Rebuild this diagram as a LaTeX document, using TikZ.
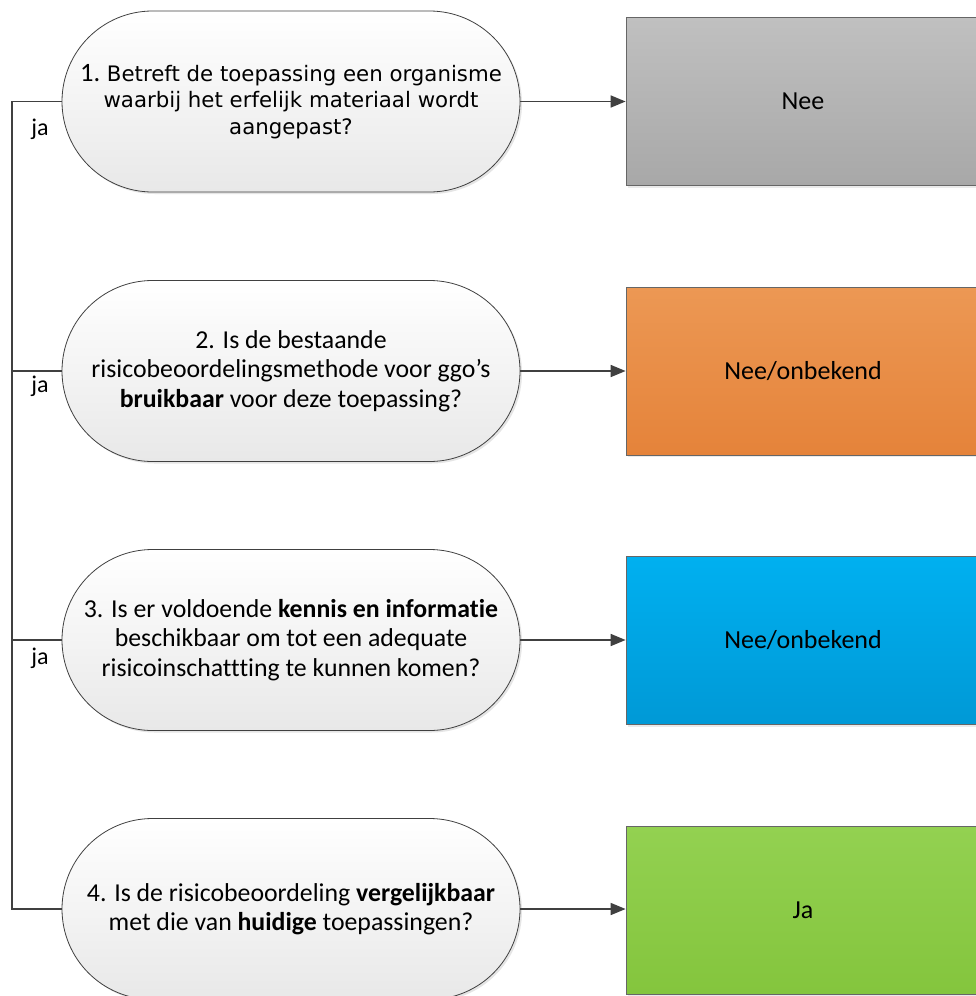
\documentclass[tikz,border=0pt]{standalone}
\usepackage{fontspec}
\setmainfont[Ligatures={NoCommon}]{Carlito}
\newfontfamily\verd{DejaVu Sans}
\usetikzlibrary{arrows.meta,shadows,positioning}
\definecolor{lineclr}{HTML}{404040}
\definecolor{greyT}{HTML}{C0C0C0}\definecolor{greyB}{HTML}{A8A8A8}
\definecolor{orT}{HTML}{EC9854}\definecolor{orB}{HTML}{E5833A}
\definecolor{blT}{HTML}{00B0F0}\definecolor{blB}{HTML}{0099D6}
\definecolor{grT}{HTML}{93D151}\definecolor{grB}{HTML}{84C53D}
\tikzset{
  question/.style={draw=lineclr, line width=0.8pt, rounded corners=90.5pt,
    minimum width=458pt, minimum height=181pt, inner sep=0pt,
    top color=white, bottom color=black!9, align=center,
    font=\fontsize{25.8}{29.5}\selectfont,
    drop shadow={shadow xshift=2pt, shadow yshift=-2pt, opacity=0.25, fill=black!40}},
  answer/.style={draw=black!60, line width=0.8pt, minimum width=354pt,
    minimum height=168pt, inner sep=0pt, font=\fontsize{26}{30}\selectfont,
    drop shadow={shadow xshift=2pt, shadow yshift=-2pt, opacity=0.2, fill=black!40}},
  conn/.style={draw=lineclr, line width=1.7pt},
  arr/.style={conn, -{Triangle[length=15pt,width=12pt]}},
  jalabel/.style={font=\fontsize{24}{26}\selectfont, inner sep=0pt}
}
\begin{document}
\begin{tikzpicture}[x=1pt,y=-1pt]
\useasboundingbox (0,0) rectangle (975,996);
\fill[white] (0,0) rectangle (975,996);
% questions
\node[question, font=\verd\fontsize{21.3}{26.5}\selectfont] (q1) at (291,101.5) {{\rmfamily\fontsize{26.5}{26.5}\selectfont 1.}~Betreft de toepassing een organisme\\waarbij het erfelijk materiaal wordt\\aangepast?};
\node[question] (q2) at (291,371) {2. Is de bestaande\\risicobeoordelingsmethode voor ggo’s\\\textbf{bruikbaar} voor deze toepassing?};
\node[question] (q3) at (291,640) {3. Is er voldoende \textbf{kennis en informatie}\\beschikbaar om tot een adequate\\risicoinschattting te kunnen komen?};
\node[question] (q4) at (291,909) {4. Is de risicobeoordeling \textbf{vergelijkbaar}\\met die van \textbf{huidige} toepassingen?};
% answers
\node[answer, top color=greyT, bottom color=greyB] (a1) at (803,101.5) {Nee};
\node[answer, top color=orT, bottom color=orB] (a2) at (803,371) {Nee/onbekend};
\node[answer, top color=blT, bottom color=blB] (a3) at (803,640.5) {Nee/onbekend};
\node[answer, top color=grT, bottom color=grB] (a4) at (803,910) {Ja};
% arrows
\foreach \i in {1,2,3,4}{\draw[arr] (q\i.east) -- (q\i.east -| a\i.west);}
% left spine
\coordinate (s1) at (12,101.5);
\coordinate (s2) at (12,371);
\coordinate (s3) at (12,640);
\coordinate (s4) at (12,909);
\draw[conn] (q1.west) -- (s1) -- (s4) -- (q4.west);
\draw[conn] (s2) -- (q2.west);
\draw[conn] (s3) -- (q3.west);
\node[jalabel] (j1) at (40,129) {ja};
\node[jalabel] (j2) at (40,386) {ja};
\node[jalabel] (j3) at (40,658) {ja};
\end{tikzpicture}
\end{document}
